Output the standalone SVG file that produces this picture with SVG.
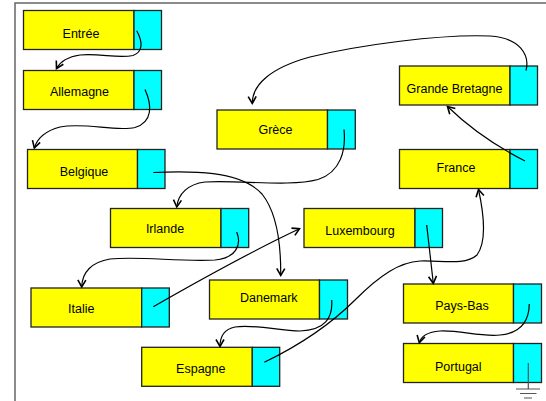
<svg xmlns="http://www.w3.org/2000/svg" width="546" height="401" viewBox="0 0 546 401">
  <defs>
    <style>
      .cell { fill: #ffff00; stroke: #222; stroke-width: 1.3; }
      .ptr { fill: #00ffff; stroke: #222; stroke-width: 1.3; }
      .lbl { font-family: "Liberation Sans", Arial, sans-serif; font-size: 12.5px; fill: #000; text-anchor: middle; }
      .link { fill: none; stroke: #000; stroke-width: 1.2; marker-end: url(#arrow); }
      .frame { fill: none; stroke: #666; stroke-width: 1.5; }
      .ground { fill: none; stroke: #555; stroke-width: 1.2; }
    </style>
    <marker id="arrow" markerUnits="userSpaceOnUse" markerWidth="14" markerHeight="14" viewBox="-10 -7 14 14" refX="0" refY="0" orient="auto">
      <path d="M-7,-4 L0,0 L-7,4" fill="none" stroke="#000" stroke-width="1.6"/>
    </marker>
  </defs>

  <!-- outer frame (left and top edges) -->
  <path class="frame" d="M15,401 V3 H546"/>

  <!-- list cells: value part + pointer part -->
  <g id="entree">
    <rect class="cell" x="23.5" y="10.5" width="110.5" height="39"/>
    <rect class="ptr" x="134" y="10.5" width="27.5" height="39"/>
    <text class="lbl" x="81" y="37.5">Entrée</text>
  </g>
  <g id="allemagne">
    <rect class="cell" x="23.5" y="70.5" width="110.5" height="39"/>
    <rect class="ptr" x="134" y="70.5" width="27.5" height="39"/>
    <text class="lbl" x="79.5" y="95.5">Allemagne</text>
  </g>
  <g id="belgique">
    <rect class="cell" x="27.5" y="149.5" width="110" height="39"/>
    <rect class="ptr" x="137.5" y="149.5" width="27.5" height="39"/>
    <text class="lbl" x="84" y="176">Belgique</text>
  </g>
  <g id="grece">
    <rect class="cell" x="217" y="110" width="110.5" height="39"/>
    <rect class="ptr" x="327.5" y="110" width="27.8" height="39"/>
    <text class="lbl" x="275.5" y="133.5">Grèce</text>
  </g>
  <g id="grande-bretagne">
    <rect class="cell" x="399.5" y="66" width="110.5" height="39"/>
    <rect class="ptr" x="510" y="66" width="27.5" height="39"/>
    <text class="lbl" x="454.5" y="92.5">Grande Bretagne</text>
  </g>
  <g id="france">
    <rect class="cell" x="399.5" y="149.5" width="110.5" height="39"/>
    <rect class="ptr" x="510" y="149.5" width="27.5" height="39"/>
    <text class="lbl" x="456" y="171.5">France</text>
  </g>
  <g id="irlande">
    <rect class="cell" x="110.5" y="208.5" width="110.5" height="39"/>
    <rect class="ptr" x="221" y="208.5" width="27.7" height="39"/>
    <text class="lbl" x="165" y="233">Irlande</text>
  </g>
  <g id="luxembourg">
    <rect class="cell" x="304" y="208.5" width="111" height="39"/>
    <rect class="ptr" x="415" y="208.5" width="27.5" height="39"/>
    <text class="lbl" x="360" y="234.5">Luxembourg</text>
  </g>
  <g id="italie">
    <rect class="cell" x="31" y="288" width="110.7" height="39"/>
    <rect class="ptr" x="141.7" y="288" width="27.6" height="39"/>
    <text class="lbl" x="81.3" y="313.3">Italie</text>
  </g>
  <g id="danemark">
    <rect class="cell" x="209.5" y="280" width="110" height="39"/>
    <rect class="ptr" x="319.5" y="280" width="28" height="39"/>
    <text class="lbl" x="268.8" y="302.3">Danemark</text>
  </g>
  <g id="pays-bas">
    <rect class="cell" x="403.5" y="284" width="110" height="39"/>
    <rect class="ptr" x="513.5" y="284" width="28" height="39"/>
    <text class="lbl" x="462" y="310">Pays-Bas</text>
  </g>
  <g id="espagne">
    <rect class="cell" x="141.7" y="347.3" width="110.6" height="39"/>
    <rect class="ptr" x="252.3" y="347.3" width="27.4" height="39"/>
    <text class="lbl" x="200.8" y="373">Espagne</text>
  </g>
  <g id="portugal">
    <rect class="cell" x="403.5" y="343.5" width="110" height="39"/>
    <rect class="ptr" x="513.5" y="343.5" width="28" height="39"/>
    <text class="lbl" x="458.3" y="371">Portugal</text>
    <!-- null pointer: earth symbol -->
    <path class="ground" d="M528.3,363 V389 M516,389 H540 M520,393.5 H536.5 M524,398 H532"/>
  </g>

  <!-- next-pointers -->
  <g id="links">
    <path class="link" d="M136.7,30.7 C143,42 143,52 133,55.5 C118,59 100,53 80,55 C66,57 60,62 56.5,68.5"/>
    <path class="link" d="M145,89.5 C152,105 153,122 135,127.5 C115,132 85,122 60,127 C45,131 37,139 34.3,148"/>
    <path class="link" d="M153.3,172.5 C190,171 240,170 262,194 C278,214 281,245 280.7,275.5"/>
    <path class="link" d="M344,129.5 C346,150 341,172 318,179.5 C290,187 240,180 205,182 C188,184 178,194 176.8,207"/>
    <path class="link" d="M236.7,232 C242,245 236,258 215,260 C180,262 140,256 110,259 C92,262 82,272 81.7,287"/>
    <path class="link" d="M153.3,306.7 C200,280 250,252 299.5,228.8"/>
    <path class="link" d="M331.7,300 C333,318 325,330 300,331 C280,331 255,324 235,327 C225,329 220,336 220,346.5"/>
    <path class="link" d="M264.3,362.3 C300,345 330,325 355,300 C380,275 400,262 420,261 C440,260 465,266 477,255 C488,240 483,210 478.5,189.5"/>
    <path class="link" d="M426.7,225 L433.3,283.3"/>
    <path class="link" d="M529.3,304 C529,320 522,333 500,335 C480,337 460,330 440,331 C428,332 421,336 419.3,342.7"/>
    <path class="link" d="M525,161 Q480,138 447.5,106.5"/>
    <path class="link" d="M526,70.7 C530,55 520,38 490,36 C440,34 360,45 310,57 C270,68 252,85 252.3,103.5"/>
  </g>
</svg>
